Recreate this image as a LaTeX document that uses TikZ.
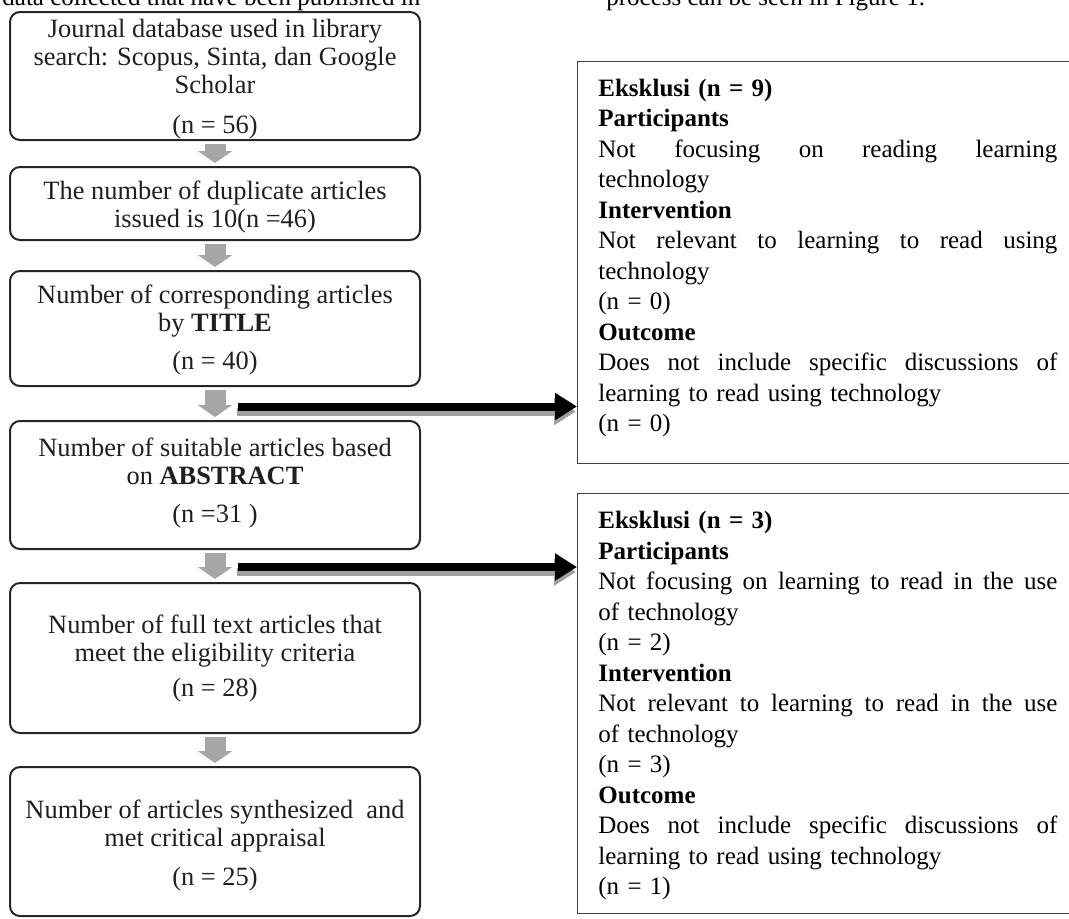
\documentclass[tikz,border=0pt]{standalone}
\usepackage{fontspec}
\setmainfont{Liberation Serif}
\usetikzlibrary{arrows.meta,calc}
\definecolor{garr}{HTML}{A6A6A6}
\definecolor{gshadow}{HTML}{A0A0A0}
\newcommand{\jline}[1]{\leavevmode\hbox to 229.5pt{#1}}
\newcommand{\topadd}[1]{\rule{0pt}{#1}}
\newcommand{\botadd}[1]{\rule[-#1]{0pt}{0pt}}
\begin{document}
\begin{tikzpicture}[x=0.5pt,y=-0.5pt,
  lbox/.style={draw=black!85, line width=1pt, rounded corners=5pt,
    minimum width=205pt, align=center, inner sep=0pt,
    font=\fontsize{13.2}{14}\selectfont, text=black!88},
  rbox/.style={draw=black!75, line width=0.6pt, anchor=north west,
    minimum width=265pt, inner sep=0pt},
  rtext/.style={anchor=north west, inner sep=0pt, text width=229.5pt,
    align=left, font=\fontsize{12.5}{15.25}\selectfont},
  ptext/.style={anchor=base west, inner sep=0pt, font=\fontsize{12.5}{15}\selectfont},
  garrow/.style={draw=garr, line width=10.5pt, -{Triangle[length=6pt,width=17pt]},
    shorten <=1.5pt, shorten >=1.5pt},
  barrow/.style={draw=black, line width=4pt, -{Triangle[length=11pt,width=13pt]}},
  bshadow/.style={barrow, draw=gshadow, transform canvas={shift={(-0.5pt,-2.5pt)}}}
]
\useasboundingbox (0,0) rectangle (1069,918);
\clip (0,0) rectangle (1069,918);

% cut-off body text at the top
\node[ptext] (p1) at (2,5) {data collected that have been published in};
\node[ptext] (p2) at (606,5) {process can be seen in Figure 1.};

% left column
\node[lbox, minimum height=64pt] (b1) at (215,76)
  {\topadd{12pt}Journal database used in library\\search: Scopus, Sinta, dan Google\\Scholar\\[6pt](n = 56)};
\node[lbox, minimum height=36.5pt] (b2) at (215,203.5)
  {\topadd{13pt}The number of duplicate articles\\issued is 10(n =46)};
\node[lbox, minimum height=57.5pt] (b3) at (215,328.5)
  {\topadd{11pt}Number of corresponding articles\\by \textbf{TITLE}\\[5pt](n = 40)};
\node[lbox, minimum height=64pt] (b4) at (215,485)
  {\topadd{11pt}Number of suitable articles based\\on \textbf{ABSTRACT}\\[5pt](n =31 )\botadd{6.4pt}};
\node[lbox, minimum height=75pt] (b5) at (215,658)
  {Number of full text articles that\\meet the eligibility criteria\\[3.5pt](n = 28)};
\node[lbox, minimum height=74.5pt] (b6) at (215,841.5)
  {\topadd{13.6pt}Number of articles synthesized~ and\\met critical appraisal\\[5.5pt](n = 25)};

% right column boxes
\node[rbox, minimum height=201pt] (e1) at (577,61) {};
\node[rtext] (t1) at (598,78.5) {%
\textbf{Eksklusi (n = 9)}\\
\textbf{Participants}\\
\jline{Not\hfill focusing\hfill on\hfill reading\hfill learning}\\
technology\\
\textbf{Intervention}\\
\jline{Not\hfill relevant\hfill to\hfill learning\hfill to\hfill read\hfill using}\\
technology\\
(n = 0)\\
\textbf{Outcome}\\
\jline{Does\hfill not\hfill include\hfill specific\hfill discussions\hfill of}\\
learning to read using technology\\
(n = 0)};

\node[rbox, minimum height=210pt] (e2) at (577,493) {};
\node[rtext] (t2) at (598,511) {%
\textbf{Eksklusi (n = 3)}\\
\textbf{Participants}\\
\jline{Not\hfill focusing\hfill on\hfill learning\hfill to\hfill read\hfill in\hfill the\hfill use}\\
of technology\\
(n = 2)\\
\textbf{Intervention}\\
\jline{Not\hfill relevant\hfill to\hfill learning\hfill to\hfill read\hfill in\hfill the\hfill use}\\
of technology\\
(n = 3)\\
\textbf{Outcome}\\
\jline{Does\hfill not\hfill include\hfill specific\hfill discussions\hfill of}\\
learning to read using technology\\
(n = 1)};

% gray down arrows
\draw[garrow] (b1.south) -- (b2.north);
\draw[garrow] (b2.south) -- (b3.north);
\draw[garrow] (b3.south) -- (b4.north);
\draw[garrow] (b4.south) -- (b5.north);
\draw[garrow] (b5.south) -- (b6.north);

% black exclusion arrows
\coordinate (m3) at ($(b3.south)!0.5!(b4.north)$);
\coordinate (s1) at ([xshift=11.5pt,yshift=-1.5pt]m3);
\draw[bshadow] (s1) -- (s1 -| e1.west);
\draw[barrow] (s1) -- (s1 -| e1.west);

\coordinate (m4) at ($(b4.south)!0.5!(b5.north)$);
\coordinate (s2) at ([xshift=11.5pt,yshift=-0.5pt]m4);
\draw[bshadow] (s2) -- (s2 -| e2.west);
\draw[barrow] (s2) -- (s2 -| e2.west);
\end{tikzpicture}
\end{document}
